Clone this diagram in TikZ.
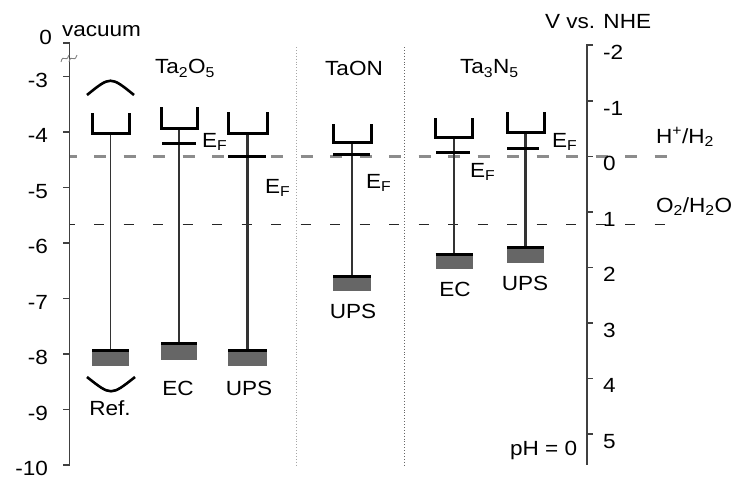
\documentclass[tikz,border=0pt]{standalone}
\usepackage{fontspec}
\setmainfont[FakeStretch=1.1]{Liberation Sans}
\begin{document}
\begin{tikzpicture}[x=1pt,y=-1pt,
  font=\fontsize{20.5}{24}\selectfont,
  lbl/.style={inner sep=0pt, outer sep=0pt},
  axisline/.style={draw=black!75, line width=1.7},
  tickline/.style={draw=black!75, line width=1.4},
  ubr/.style={line width=3, line join=miter},
  efline/.style={line width=3},
  vbtopline/.style={line width=3.5},
  vbbox/.style={fill=black!60},
  sep/.style={dotted, line width=0.9},
  hdash/.style={draw=black!45, line width=2.6, dash pattern=on 12pt off 17.5pt, dash phase=5.5pt},
  odash/.style={draw=black!85, line width=1.4, dash pattern=on 10pt off 19.5pt, dash phase=5.5pt},
]
\useasboundingbox (0,0) rectangle (732,479);

% band column: name, x, half width, cb top, cb bottom, vb top, vb bottom, line width
\newcommand\bandcol[8]{%
  \coordinate (#1cb) at (#2,#5);
  \coordinate (#1vb) at (#2,#6);
  \fill[vbbox] (#2-#3,#6) rectangle (#2+#3,#7);
  \draw[line width=#8, black!80] (#1cb) -- (#1vb);
  \draw[vbtopline] (#2-#3,#6+1.5) -- (#2+#3,#6+1.5);
  \draw[ubr] (#2-#3,#4) -- (#2-#3,#5) -- (#2+#3,#5) -- (#2+#3,#4);
}

% separators
\draw[sep, black!35] (296,47) -- (296,467);
\draw[sep, black!60] (404,47) -- (404,467);

% redox levels
\coordinate (hL) at (70,156.4);
\coordinate (hR) at (673,156.4);
\coordinate (oL) at (70,224.7);
\coordinate (oR) at (673,224.7);
\draw[hdash] (hL) -- (hR);
\draw[odash] (oL) -- (oR);

% left axis
\coordinate (laxTop) at (69.5,43);
\coordinate (laxBot) at (69.5,465);
\draw[axisline] (63,43) -- (laxTop) -- (laxBot);
\foreach \e in {3,...,10}{
  \pgfmathsetmacro\yy{-90+55.5*\e}
  \draw[tickline] (63,\yy) -- (69.5,\yy);
  \node[lbl, anchor=base east] (lt\e) at (48,\yy+10.5) {-\e};
}
\node[lbl, anchor=base east] (lt0) at (52,44) {0};
\node[lbl, anchor=base west] (vac) at (62,37) {vacuum};
% axis break mark
\draw[black!50, line width=0.9] (61,62) .. controls (63,53) and (66,64) .. (69,55);
\draw[black!50, line width=0.9] (69,62) .. controls (71,53) and (74,64) .. (77,55);

% right axis
\coordinate (raxTop) at (587,45);
\coordinate (raxBot) at (587,465);
\draw[axisline] (593,45) -- (raxTop) -- (raxBot);
\foreach \v in {-2,...,5}{
  \pgfmathsetmacro\yy{156.4+55.5*\v}
  \draw[tickline] (587,\yy) -- (593,\yy);
  \node[lbl, anchor=base west] (rt\v) at (603,\yy+14.5) {\v};
}
\node[lbl, anchor=base west] (nhe) at (545,28) {V vs. NHE};
\node[lbl, anchor=base west] (hh) at (656,143) {H\textsuperscript{+}/H\textsubscript{2}};
\node[lbl, anchor=base west] (oo) at (656,212) {O\textsubscript{2}/H\textsubscript{2}O};
\node[lbl, anchor=base west] (ph) at (510,455) {pH = 0};

% headers
\node[lbl, anchor=base west] (h1) at (155,74) {Ta\textsubscript{2}O\textsubscript{5}};
\node[lbl, anchor=base] (h2) at (354,75) {TaON};
\node[lbl, anchor=base west] (h3) at (460,74) {Ta\textsubscript{3}N\textsubscript{5}};

% Ref column
\bandcol{ref}{110.5}{18.5}{113}{133}{349}{366}{1.5}
\draw[line width=2.6] (87,95) .. controls (110.5,76) .. (134,95);
\draw[line width=2.6] (87,377) .. controls (111,396) .. (135,377);
\node[lbl, anchor=base] (tref) at (110,415) {Ref.};

% Ta2O5 EC
\bandcol{ecA}{179}{18}{107}{128}{342}{360}{1.5}
\draw[efline] (162,143) -- (196,143);
\node[lbl, anchor=base west] (efA) at (202,147) {E\textsubscript{F}};
\node[lbl, anchor=base] (tecA) at (178,395) {EC};

% Ta2O5 UPS
\bandcol{upA}{247.5}{19.5}{112}{133}{349}{366}{2.6}
\draw[efline] (228,156) -- (266,156);
\node[lbl, anchor=base west] (efB) at (265,193) {E\textsubscript{F}};
\node[lbl, anchor=base] (tupA) at (249,395) {UPS};

% TaON UPS
\bandcol{upB}{352}{19}{124}{142}{275}{291}{2.3}
\draw[efline] (333,154) -- (370,154);
\node[lbl, anchor=base west] (efC) at (366,188) {E\textsubscript{F}};
\node[lbl, anchor=base] (tupB) at (353,318) {UPS};

% Ta3N5 EC
\bandcol{ecC}{454}{18.5}{118}{137}{253}{269}{1.5}
\draw[efline] (436,152) -- (470,152);
\node[lbl, anchor=base west] (efD) at (470,177) {E\textsubscript{F}};
\node[lbl, anchor=base] (tecC) at (455,296) {EC};

% Ta3N5 UPS
\bandcol{upC}{525.5}{18.5}{112}{132}{246}{263}{2.6}
\draw[efline] (507,148) -- (539,148);
\node[lbl, anchor=base west] (efE) at (552,147) {E\textsubscript{F}};
\node[lbl, anchor=base] (tupC) at (525,290) {UPS};
\end{tikzpicture}
\end{document}
